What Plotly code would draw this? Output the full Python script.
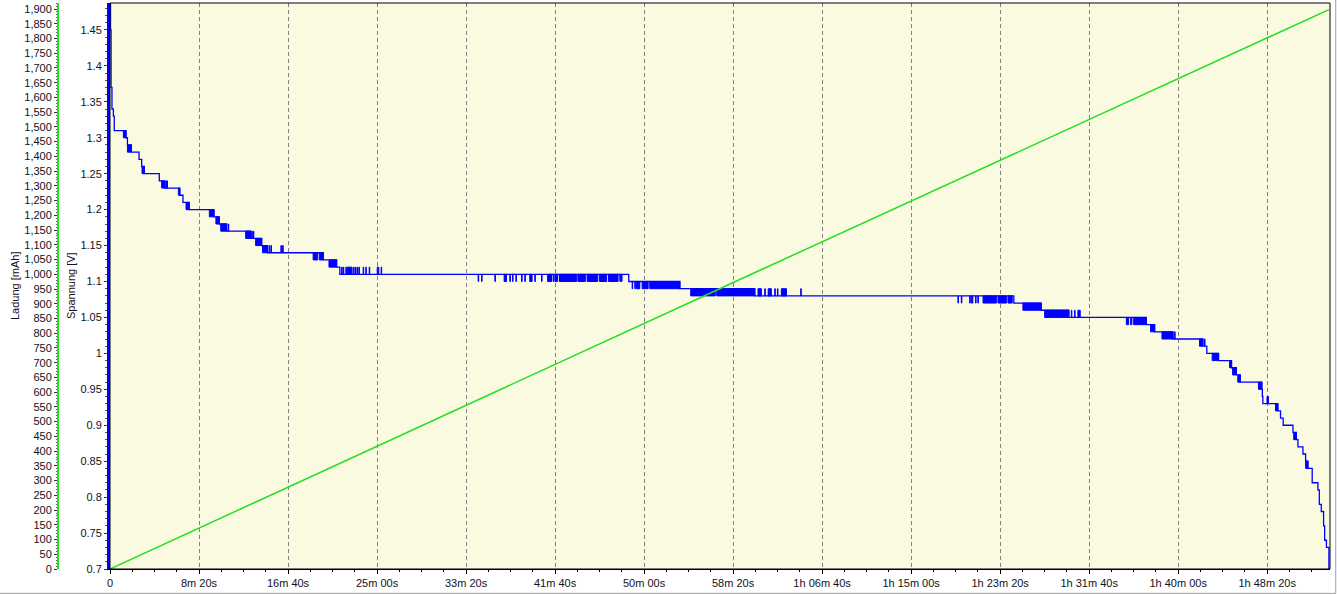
import plotly.graph_objects as go

# ---------------- data ----------------
# main voltage trace: step changes (time in seconds, voltage in V)
volt_time = [0, 3, 6, 11, 19, 24, 90, 98, 120, 163, 178, 193, 277, 308, 392, 410,
             445, 584, 614, 655, 790, 852, 885, 1198, 1273, 1291, 2914, 3201, 3622,
             5077, 5231, 5386, 5821, 5868, 5971, 6139, 6161, 6227, 6300, 6327, 6349,
             6470, 6473, 6476, 6560, 6575, 6590, 6645, 6664, 6673, 6701, 6716, 6729,
             6753, 6785, 6793, 6804, 6817, 6823, 6833, 6847]
volt_value = [1.50, 1.45, 1.37, 1.34, 1.33, 1.31, 1.30, 1.29, 1.28, 1.27, 1.26, 1.25,
              1.24, 1.23, 1.22, 1.21, 1.20, 1.19, 1.18, 1.17, 1.16, 1.15, 1.14, 1.13,
              1.12, 1.11, 1.10, 1.09, 1.08, 1.07, 1.06, 1.05, 1.04, 1.03, 1.02, 1.01,
              1.00, 0.99, 0.98, 0.97, 0.96, 0.95, 0.94, 0.93, 0.92, 0.91, 0.90, 0.89,
              0.88, 0.87, 0.86, 0.85, 0.84, 0.82, 0.81, 0.79, 0.78, 0.76, 0.74, 0.73,
              0.69]

# dense toggling between two adjacent levels (start s, end s, low V, high V)
band_start = [75, 98, 180, 290, 384, 427, 558, 595, 622, 762, 818, 857, 1141, 1175,
              1230, 1332, 1501, 2214, 2358, 2458, 2499, 2525, 2628, 2680, 2750, 2800,
              2957, 2989, 3032, 3262, 3408, 3640, 3697, 3771, 4838, 4904, 4988, 5044,
              5128, 5250, 5437, 5709, 5733, 5750, 5845, 5909, 6120, 6191, 6289, 6306,
              6335, 6451, 6547, 6649, 6716]
band_end = [90, 120, 193, 308, 392, 445, 584, 614, 655, 790, 852, 885, 1165, 1198,
            1273, 1359, 1510, 2227, 2371, 2480, 2515, 2620, 2670, 2740, 2790, 2854,
            2976, 3023, 3201, 3400, 3622, 3659, 3715, 3800, 4847, 4979, 5035, 5068,
            5231, 5386, 5450, 5722, 5740, 5821, 5868, 5971, 6139, 6227, 6300, 6327,
            6349, 6470, 6560, 6664, 6729]
band_low = [1.30, 1.28, 1.25, 1.23, 1.22, 1.20, 1.19, 1.18, 1.17, 1.16, 1.15, 1.14,
            1.13, 1.13, 1.12, 1.11, 1.11, 1.10, 1.10, 1.10, 1.10, 1.10, 1.10, 1.10,
            1.10, 1.10, 1.09, 1.09, 1.09, 1.08, 1.08, 1.08, 1.08, 1.08, 1.07, 1.07,
            1.07, 1.07, 1.06, 1.05, 1.05, 1.04, 1.04, 1.04, 1.03, 1.02, 1.01, 0.99,
            0.98, 0.97, 0.96, 0.95, 0.92, 0.88, 0.84]
band_high = [1.31, 1.29, 1.26, 1.24, 1.23, 1.21, 1.20, 1.19, 1.18, 1.17, 1.16, 1.15,
             1.14, 1.14, 1.13, 1.12, 1.12, 1.11, 1.11, 1.11, 1.11, 1.11, 1.11, 1.11,
             1.11, 1.11, 1.10, 1.10, 1.10, 1.09, 1.09, 1.09, 1.09, 1.09, 1.08, 1.08,
             1.08, 1.08, 1.07, 1.06, 1.06, 1.05, 1.05, 1.05, 1.04, 1.03, 1.02, 1.00,
             0.99, 0.98, 0.97, 0.96, 0.93, 0.89, 0.85]

# isolated single-sample spikes (time s, low V, high V)
spike_time = [314, 320, 664, 796, 805, 894, 904, 960, 970,
              1301, 1310, 1325, 1366, 1376, 1387, 1398, 1422, 1437, 1456, 1523,
              2068, 2087, 2162, 2246, 2261, 2280, 2312, 2330, 2386, 2424, 2489,
              2864, 2873, 2933, 2948,
              3678, 3734, 3749, 3880,
              4763, 4782, 4829, 4862, 4875,
              5400, 5418, 5980, 6148, 6499, 6504]
spike_low = [1.23, 1.23, 1.17, 1.16, 1.16, 1.14, 1.14, 1.14, 1.14,
             1.11, 1.11, 1.11, 1.11, 1.11, 1.11, 1.11, 1.11, 1.11, 1.11, 1.11,
             1.10, 1.10, 1.10, 1.10, 1.10, 1.10, 1.10, 1.10, 1.10, 1.10, 1.10,
             1.10, 1.10, 1.09, 1.09,
             1.08, 1.08, 1.08, 1.08,
             1.07, 1.07, 1.07, 1.07, 1.07,
             1.05, 1.05, 1.02, 1.01, 0.93, 0.93]
spike_high = [1.24, 1.24, 1.18, 1.17, 1.17, 1.15, 1.15, 1.15, 1.15,
              1.12, 1.12, 1.12, 1.12, 1.12, 1.12, 1.12, 1.12, 1.12, 1.12, 1.12,
              1.11, 1.11, 1.11, 1.11, 1.11, 1.11, 1.11, 1.11, 1.11, 1.11, 1.11,
              1.11, 1.11, 1.10, 1.10,
              1.09, 1.09, 1.09, 1.09,
              1.08, 1.08, 1.08, 1.08, 1.08,
              1.06, 1.06, 1.03, 1.02, 0.94, 0.94]

# charge (mAh) over time
charge_time = [0, 3425, 6847]
charge_value = [0, 951, 1898]

x_tick_values = [0, 500, 1000, 1500, 2000, 2500, 3000, 3500, 4000, 4500, 5000,
                 5500, 6000, 6500]
x_tick_labels = ["0", "8m 20s", "16m 40s", "25m 00s", "33m 20s", "41m 40s",
                 "50m 00s", "58m 20s", "1h 06m 40s", "1h 15m 00s", "1h 23m 20s",
                 "1h 31m 40s", "1h 40m 00s", "1h 48m 20s"]
volt_tick_values = [0.70, 0.75, 0.80, 0.85, 0.90, 0.95, 1.00, 1.05, 1.10, 1.15,
                    1.20, 1.25, 1.30, 1.35, 1.40, 1.45]
volt_tick_labels = ["0.7", "0.75", "0.8", "0.85", "0.9", "0.95", "1", "1.05", "1.1",
                    "1.15", "1.2", "1.25", "1.3", "1.35", "1.4", "1.45"]
charge_tick_values = [0, 50, 100, 150, 200, 250, 300, 350, 400, 450, 500, 550, 600,
                      650, 700, 750, 800, 850, 900, 950, 1000, 1050, 1100, 1150, 1200,
                      1250, 1300, 1350, 1400, 1450, 1500, 1550, 1600, 1650, 1700, 1750,
                      1800, 1850, 1900]
charge_tick_labels = [f"{v:,}" for v in charge_tick_values]

# ---------------- styling ----------------
W, H = 1337, 595
ML, MR, MT, MB = 0, 7, 3, 26
PLOT_W = W - ML - MR
X_START_PX = 110
CHARGE_AXIS_PX = 58
BLUE = "#0000FF"
GREEN = "#22E022"
FONT = dict(family="Liberation Sans, Arial, sans-serif", size=11, color="#111122")
SPIKE_W = 3

bx, by = [], []
for t0, t1, lo, hi in zip(band_start, band_end, band_low, band_high):
    bx += [t0, t1, t1, t0, t0, None]
    by += [lo, lo, hi, hi, lo, None]
for t, lo, hi in zip(spike_time, spike_low, spike_high):
    bx += [t, t + SPIKE_W, t + SPIKE_W, t, t, None]
    by += [lo, lo, hi, hi, lo, None]

fig = go.Figure()
fig.add_trace(go.Scatter(x=volt_time, y=volt_value, mode="lines",
                         line=dict(color=BLUE, width=1.3, shape="hv"),
                         yaxis="y", hoverinfo="skip", showlegend=False))
fig.add_trace(go.Scatter(x=bx, y=by, mode="lines", fill="toself",
                         fillcolor=BLUE, line=dict(color=BLUE, width=1),
                         yaxis="y", hoverinfo="skip", showlegend=False))
fig.add_trace(go.Scatter(x=charge_time, y=charge_value, mode="lines",
                         line=dict(color=GREEN, width=1.5),
                         yaxis="y2", hoverinfo="skip", showlegend=False))

fig.update_layout(
    width=W, height=H,
    margin=dict(l=ML, r=MR, t=MT, b=MB, autoexpand=False),
    paper_bgcolor="white",
    plot_bgcolor="#FAFAE1",
    font=FONT,
    showlegend=False,
    xaxis=dict(domain=[X_START_PX / PLOT_W, 1], range=[0, 6853], anchor="y",
               tickmode="array", tickvals=x_tick_values, ticktext=x_tick_labels,
               ticks="outside", ticklen=4, tickcolor="#000000", tickfont=FONT,
               showline=True, linecolor="#000000", linewidth=1,
               showgrid=True, gridcolor="#808080", griddash="4px,3px", gridwidth=1,
               zeroline=False, automargin=False,
               minor=dict(dtick=125, tick0=0, ticks="outside", ticklen=2,
                          tickcolor="#000000", showgrid=False)),
    yaxis=dict(domain=[0, 1], range=[0.7, 1.4875], anchor="x", side="left",
               tickmode="array", tickvals=volt_tick_values, ticktext=volt_tick_labels,
               ticks="outside", ticklen=3, tickcolor="#333344", tickfont=FONT,
               showline=True, linecolor=BLUE, linewidth=3,
               showgrid=False, zeroline=False, automargin=False,
               minor=dict(dtick=0.01, tick0=0.7, ticks="outside", ticklen=2,
                          tickcolor="#555566", showgrid=False)),
    yaxis2=dict(overlaying="y", anchor="free", position=CHARGE_AXIS_PX / PLOT_W,
                side="left", range=[0, 1920.4],
                tickmode="array", tickvals=charge_tick_values,
                ticktext=charge_tick_labels,
                ticks="outside", ticklen=3, tickcolor="#333344", tickfont=FONT,
                showline=True, linecolor=GREEN, linewidth=2,
                showgrid=False, zeroline=False, automargin=False,
                minor=dict(dtick=10, tick0=0, ticks="outside", ticklen=1,
                           tickcolor="#556655", showgrid=False)),
    shapes=[
        dict(type="rect", xref="x domain", yref="y domain", x0=0, x1=1, y0=0, y1=1,
             line=dict(color="#000000", width=1), layer="above"),
        dict(type="line", xref="paper", yref="paper", x0=0, x1=1.0043,
             y0=-0.043, y1=-0.043, line=dict(color="#A0A0A0", width=1)),
        dict(type="line", xref="paper", yref="paper", x0=1.0043, x1=1.0043,
             y0=-0.043, y1=1.006, line=dict(color="#A0A0A0", width=1)),
    ],
    annotations=[
        dict(text="Ladung [mAh]", xref="paper", yref="paper", x=15 / PLOT_W, y=0.5,
             textangle=-90, showarrow=False, font=FONT, xanchor="center",
             yanchor="middle"),
        dict(text="Spannung [V]", xref="paper", yref="paper", x=71 / PLOT_W, y=0.5,
             textangle=-90, showarrow=False, font=FONT, xanchor="center",
             yanchor="middle"),
    ],
)

fig.write_html("out.html", config={"displayModeBar": False},
               post_script="document.body.style.margin='0';"
                           "document.body.style.overflow='hidden';")
